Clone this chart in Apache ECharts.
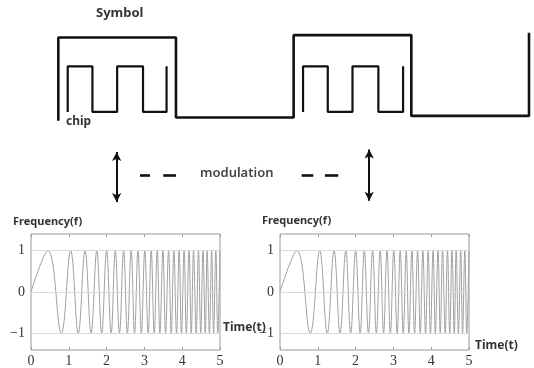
<!DOCTYPE html>
<html>
<head>
<meta charset="utf-8">
<script src="https://cdn.jsdelivr.net/npm/echarts@6/dist/echarts.min.js"></script>
<style>
  html, body { margin: 0; padding: 0; background: #fff; }
  #chart { width: 534px; height: 368px; }
</style>
</head>
<body>
<div id="chart"></div>
<script>
// top diagram: one symbol = 1 unit on the x axis, levels 0 (low) .. 1 (high)
const symbolWave = [[0, -0.04], [0, 1], [1, 1], [1, 0], [2, 0], [2, 1.03], [3, 1.03], [3, 0.02], [4, 0.02], [4, 1.06]];
const chipEdgesA = [0.08, 0.29, 0.50, 0.72, 0.92];
const chipEdgesB = [2.08, 2.29, 2.50, 2.72, 2.93];
const chipHigh = 0.64;
const chipLow = 0.07;

const timeTicks = [0, 1, 2, 3, 4, 5];
const freqTicks = [-1, 0, 1];
const chirpT = [0, 0.45, 0.80, 1.05, 1.25, 1.43, 1.59, 1.74, 1.87, 2.00, 2.12, 2.23, 2.34, 2.45, 2.55, 2.65,
  2.74, 2.83, 2.92, 3.01, 3.10, 3.18, 3.26, 3.34, 3.41, 3.49, 3.56, 3.64, 3.71, 3.78, 3.85, 3.92, 3.98,
  4.05, 4.11, 4.18, 4.24, 4.30, 4.37, 4.43, 4.49, 4.55, 4.61, 4.66, 4.72, 4.78, 4.83, 4.89, 4.94, 5.00];
const chirpY = [0, 1, -1, 1, -1, 1, -1, 1, -1, 1, -1, 1, -1, 1, -1, 1, -1, 1, -1, 1, -1, 1, -1, 1, -1,
  1, -1, 1, -1, 1, -1, 1, -1, 1, -1, 1, -1, 1, -1, 1, -1, 1, -1, 1, -1, 1, -1, 1, -1, 1];

function chipWave(edges) {
  const pts = [[edges[0], chipLow]];
  let high = true;
  for (let i = 0; i < edges.length; i++) {
    if (i > 0) pts.push([edges[i], high ? chipLow : chipHigh]);
    pts.push([edges[i], high ? chipHigh : chipLow]);
    high = !high;
  }
  return pts;
}

const chirpData = chirpT.map((t, i) => [t, chirpY[i]]);
const chart = echarts.init(document.getElementById('chart'));

const serif = 'Liberation Serif';
const sans = 'Noto Sans';
const frameColor = '#9a9a9a';

function plotAxes(gridIndex) {
  const xBottom = {
    gridIndex, type: 'value', min: 0, max: 5, interval: 1,
    axisLine: { show: false, onZero: false },
    axisTick: { inside: true, length: 3, lineStyle: { color: frameColor } },
    axisLabel: { margin: 4, fontFamily: serif, fontSize: 14, color: '#333' },
    splitLine: { show: false }
  };
  const xTop = {
    gridIndex, type: 'value', position: 'top', min: 0, max: 5, interval: 1,
    axisLine: { show: false, onZero: false },
    axisTick: { inside: true, length: 3, lineStyle: { color: frameColor } },
    axisLabel: { show: false }, splitLine: { show: false }
  };
  const yLeft = {
    gridIndex, type: 'value', min: -1.4, max: 1.4,
    axisLine: { show: false, onZero: false },
    axisTick: { inside: true, length: 3, customValues: freqTicks, lineStyle: { color: frameColor } },
    axisLabel: {
      customValues: freqTicks, margin: 6, fontFamily: serif, fontSize: 14, color: '#333',
      formatter: v => (v < 0 ? '\u2212' + Math.abs(v) : String(v))
    },
    splitLine: { show: false }
  };
  const yRight = {
    gridIndex, type: 'value', position: 'right', min: -1.4, max: 1.4,
    axisLine: { show: false, onZero: false },
    axisTick: { inside: true, length: 3, customValues: freqTicks, lineStyle: { color: frameColor } },
    axisLabel: { show: false }, splitLine: { show: false }
  };
  return { x: [xBottom, xTop], y: [yLeft, yRight] };
}

const leftAxes = plotAxes(1);
const rightAxes = plotAxes(2);

function chirpSeries(xIdx, yIdx) {
  return {
    type: 'line', xAxisIndex: xIdx, yAxisIndex: yIdx,
    data: chirpData, smooth: 0.4, showSymbol: false, silent: true,
    lineStyle: { color: '#a0a0a0', width: 1 },
    markLine: {
      silent: true, symbol: 'none', label: { show: false },
      lineStyle: { color: '#dadada', width: 1, type: 'solid' },
      data: freqTicks.map(v => ({ yAxis: v }))
    }
  };
}

const arrowLine = { color: '#111', width: 2, type: 'solid' };
const dashLine = { color: '#111', width: 2.6, type: 'solid' };

const options = {
  animation: false,
  grid: [
    // diagram area: y from -1.1 (below the arrows) up to the symbol level 1
    { left: 58.3, top: 37.5, width: 470.7, height: 168 },
    { left: 31, top: 234, width: 189, height: 116.6, show: true, borderColor: frameColor, borderWidth: 1 },
    { left: 280, top: 234, width: 189, height: 116.6, show: true, borderColor: frameColor, borderWidth: 1 }
  ],
  xAxis: [
    { gridIndex: 0, type: 'value', min: 0, max: 4, show: false },
    leftAxes.x[0], leftAxes.x[1], rightAxes.x[0], rightAxes.x[1]
  ],
  yAxis: [
    { gridIndex: 0, type: 'value', min: -1.1, max: 1, show: false },
    leftAxes.y[0], leftAxes.y[1], rightAxes.y[0], rightAxes.y[1]
  ],
  graphic: [
    { type: 'text', left: 96, top: 7, style: { text: 'Symbol', font: `bold 13px "${sans}"`, fill: '#333' } },
    { type: 'text', left: 66, top: 116, style: { text: 'chip', font: `bold 12px "${sans}"`, fill: '#333' } },
    { type: 'text', left: 200, top: 167, style: { text: 'modulation', font: `600 13px "${sans}"`, fill: '#444' } },
    { type: 'text', left: 13, top: 216, style: { text: 'Frequency(f)', font: `bold 11px "${sans}"`, fill: '#333' } },
    { type: 'text', left: 262, top: 215, style: { text: 'Frequency(f)', font: `bold 11px "${sans}"`, fill: '#333' } },
    { type: 'text', left: 223, top: 322, style: { text: 'Time(t)', font: `bold 12px "${sans}"`, fill: '#333' } },
    { type: 'text', left: 475, top: 340, style: { text: 'Time(t)', font: `bold 12px "${sans}"`, fill: '#333' } }
  ],
  series: [
    {
      type: 'line', xAxisIndex: 0, yAxisIndex: 0, data: symbolWave, showSymbol: false,
      silent: true, clip: false, lineStyle: { color: '#111', width: 2.6 },
      markLine: {
        silent: true, label: { show: false }, symbol: ['arrow', 'arrow'], symbolSize: [7, 9],
        itemStyle: { color: '#111' },
        lineStyle: arrowLine,
        data: [
          [{ coord: [0.496, -0.43] }, { coord: [0.496, -1.055] }],
          [{ coord: [2.642, -0.40] }, { coord: [2.642, -1.04] }]
        ]
      }
    },
    {
      type: 'line', xAxisIndex: 0, yAxisIndex: 0, data: chipWave(chipEdgesA), showSymbol: false,
      silent: true, clip: false, lineStyle: { color: '#111', width: 2.2 },
      markLine: {
        silent: true, label: { show: false }, symbol: 'none',
        lineStyle: dashLine,
        data: [
          [{ coord: [0.694, -0.72] }, { coord: [0.779, -0.72] }],
          [{ coord: [0.892, -0.72] }, { coord: [1.0, -0.72] }],
          [{ coord: [2.068, -0.72] }, { coord: [2.167, -0.72] }],
          [{ coord: [2.266, -0.72] }, { coord: [2.379, -0.72] }]
        ]
      }
    },
    {
      type: 'line', xAxisIndex: 0, yAxisIndex: 0, data: chipWave(chipEdgesB), showSymbol: false,
      silent: true, clip: false, lineStyle: { color: '#111', width: 2.2 }
    },
    chirpSeries(1, 1),
    chirpSeries(3, 3)
  ]
};
chart.setOption(options);
</script>
</body>
</html>
